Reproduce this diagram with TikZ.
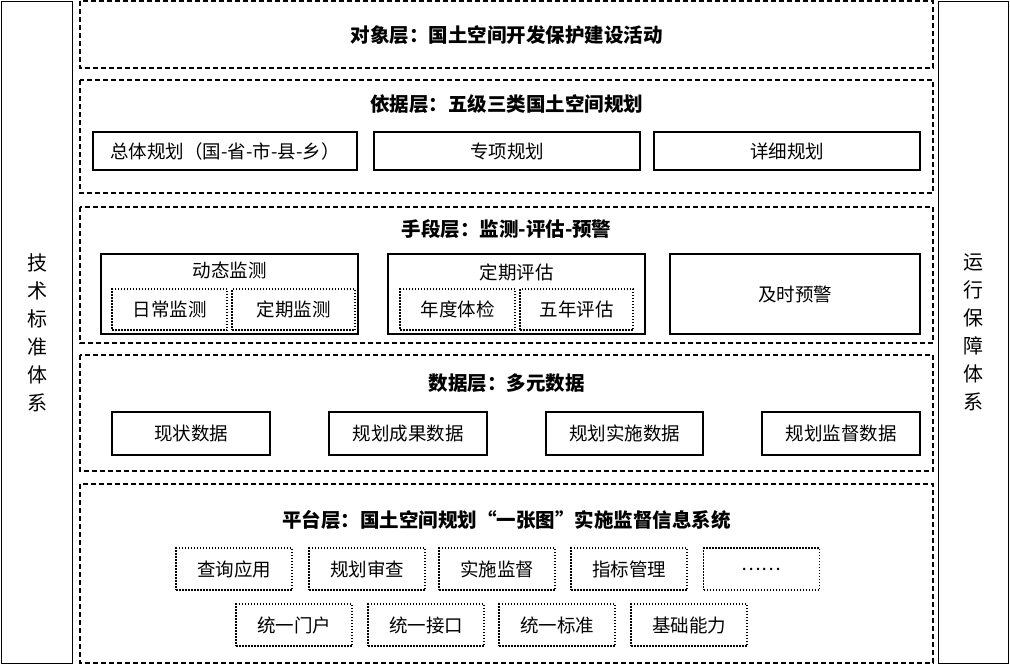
\documentclass[tikz,border=0pt]{standalone}
\usepackage{fontspec}
\setmainfont{Noto Sans CJK SC}
\begin{document}
\begin{tikzpicture}[x=1pt,y=-1pt,
  layer/.style={draw,dash pattern=on 5pt off 3pt,line width=1.3pt},
  solidbox/.style={draw,line width=1.3pt,font=\fontsize{18.5}{21}\selectfont},
  dotbox/.style={draw,dash pattern=on 1.5pt off 1.5pt,line width=1.3pt,font=\fontsize{18.5}{21}\selectfont},
  ttl/.style={font=\fontsize{19.5}{22}\selectfont\bfseries},
  lbl/.style={font=\fontsize{18.5}{21}\selectfont}]
\useasboundingbox (0,0) rectangle (1010,665);
\node[solidbox,minimum width=71,minimum height=662,anchor=north west,align=center,font=\fontsize{20}{28}\selectfont] (L) at (1,1) {技\\术\\标\\准\\体\\系};
\node[solidbox,minimum width=70,minimum height=662,anchor=north west,align=center,font=\fontsize{20}{28}\selectfont] (R) at (938,1) {运\\行\\保\\障\\体\\系};
% layers
\draw[layer] (80,1) rectangle (933,68);
\node[ttl] (t1) at (506.5,35) {对象层：国土空间开发保护建设活动};
\draw[layer] (80,80) rectangle (933,193);
\node[ttl] (t2) at (506.5,104) {依据层：五级三类国土空间规划};
\draw[layer] (80,207) rectangle (933,343);
\node[ttl] (t3) at (506.5,229) {手段层：监测-评估-预警};
\draw[layer] (80,355) rectangle (933,471);
\node[ttl] (t4) at (506.5,383) {数据层：多元数据};
\draw[layer] (80,484) rectangle (933,663);
\node[ttl] (t5) at (506.5,520) {平台层：国土空间规划“一张图”实施监督信息系统};
% 依据层
\node[solidbox,minimum width=264,minimum height=38] (a1) at (225,151) {总体规划（国-省-市-县-乡）};
\node[solidbox,minimum width=266,minimum height=38] (a2) at (507,151) {专项规划};
\node[solidbox,minimum width=266,minimum height=38] (a3) at (787,151) {详细规划};
% 手段层
\draw[line width=1.3pt] (101,254) rectangle (358,334);
\node[lbl] (b1) at (229.5,270) {动态监测};
\node[dotbox,minimum width=115,minimum height=41] (b11) at (169.5,309.5) {日常监测};
\node[dotbox,minimum width=123,minimum height=41] (b12) at (293.5,309.5) {定期监测};
\draw[line width=1.3pt] (388,254) rectangle (645,334);
\node[lbl] (b2) at (516.5,272) {定期评估};
\node[dotbox,minimum width=115,minimum height=41] (b21) at (457.5,309.5) {年度体检};
\node[dotbox,minimum width=113,minimum height=41] (b22) at (576.5,309.5) {五年评估};
\node[solidbox,minimum width=250,minimum height=80] (b3) at (795,294) {及时预警};
% 数据层
\node[solidbox,minimum width=158,minimum height=43] (c1) at (191,433.5) {现状数据};
\node[solidbox,minimum width=158,minimum height=43] (c2) at (408,433.5) {规划成果数据};
\node[solidbox,minimum width=157,minimum height=43] (c3) at (624.5,433.5) {规划实施数据};
\node[solidbox,minimum width=158,minimum height=43] (c4) at (841,433.5) {规划监督数据};
% 平台层
\foreach \n/\x/\t in {d1/234/查询应用,d2/367/规划审查,d3/497/实施监督,d4/629/指标管理,d5/761.5/……}
  \node[dotbox,minimum width=116,minimum height=42] (\n) at (\x,569) {\t};
\foreach \n/\x/\t in {e1/294/统一门户,e2/426/统一接口,e3/557/统一标准,e4/689/基础能力}
  \node[dotbox,minimum width=116,minimum height=42] (\n) at (\x,625) {\t};
\end{tikzpicture}
\end{document}
